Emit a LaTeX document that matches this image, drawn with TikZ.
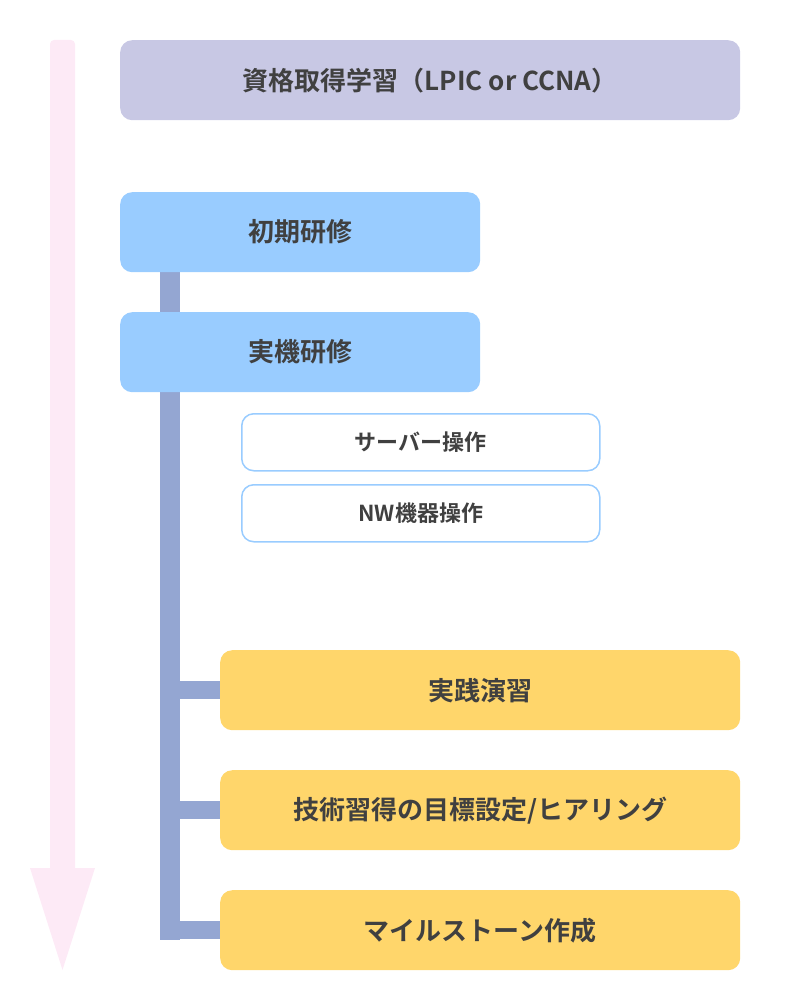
\documentclass[tikz,border=0pt]{standalone}
\usepackage{fontspec}
\setmainfont{Noto Sans CJK JP}[BoldFont={* Bold}]
\usetikzlibrary{positioning,backgrounds}
\definecolor{pinkarrow}{HTML}{FDEAF6}
\definecolor{topbox}{HTML}{C8C8E4}
\definecolor{bluebox}{HTML}{99CCFF}
\definecolor{orangebox}{HTML}{FFD66B}
\definecolor{barcol}{HTML}{94A6D2}
\definecolor{txt}{HTML}{404040}
\tikzset{
  box/.style={rounded corners=12pt, text=txt, font=\bfseries\fontsize{26}{30}\selectfont, inner sep=0pt, anchor=north west},
  phase/.style={box, fill=bluebox, minimum width=360pt, minimum height=80pt},
  task/.style={box, fill=orangebox, minimum width=520pt, minimum height=80pt},
  sub/.style={box, draw=bluebox, line width=1.5pt, fill=white, minimum width=358pt, minimum height=57pt, font=\bfseries\fontsize{22}{26}\selectfont},
  link/.style={barcol, line width=20pt}
}
\begin{document}
\begin{tikzpicture}[x=1pt,y=-1pt]
  \useasboundingbox (0,0) rectangle (786,1000);
  % time arrow
  \fill[pinkarrow, rounded corners=4pt] (50,40) rectangle (75,880);
  \fill[pinkarrow] (30,868) -- (95,868) -- (62.5,970) -- cycle;

  \node[box, fill=topbox, minimum width=620pt, minimum height=80pt] (cert) at (120,40) {資格取得学習（LPIC or CCNA）};
  \node[phase] (init) at (120,192) {初期研修};
  \node[phase] (real) at (120,312) {実機研修};
  \node[sub] (srv) at (241,413) {サーバー操作};
  \node[sub] (nw) at (241,484) {NW機器操作};
  \node[task] (prac) at (220,650) {実践演習};
  \node[task] (goal) at (220,770) {技術習得の目標設定/ヒアリング};
  \node[task] (mile) at (220,890) {マイルストーン作成};
  \coordinate (end) at (170,940);

  % connectors
  \begin{scope}[on background layer]
  \draw[link] (init.south -| end) -- (real.north -| end);
  \draw[link] (real.south -| end) -- (end);
  \draw[link, line width=18pt] (prac.west -| end) -- (prac.west);
  \draw[link, line width=18pt] (goal.west -| end) -- (goal.west);
  \draw[link, line width=18pt] (mile.west -| end) -- (mile.west);
  \end{scope}
\end{tikzpicture}
\end{document}
